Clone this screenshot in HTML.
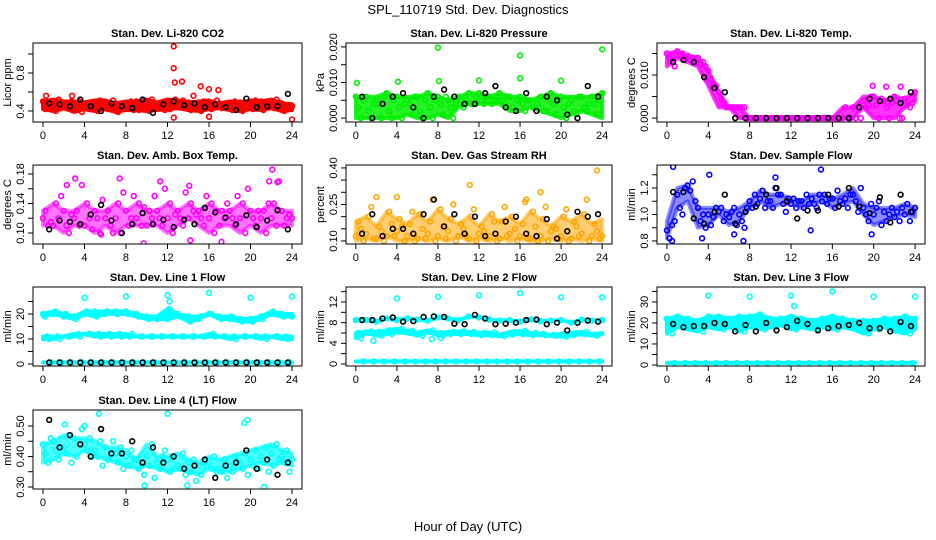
<!DOCTYPE html>
<html><head><meta charset="utf-8"><style>
html,body{margin:0;padding:0;background:#fff;}
svg{display:block;font-family:"Liberation Sans",sans-serif;}
</style></head><body>
<svg id="chart" width="936" height="540" viewBox="0 0 936 540" xmlns="http://www.w3.org/2000/svg">
<text x="468" y="14" text-anchor="middle" font-size="13">SPL_110719  Std. Dev. Diagnostics</text>
<text x="468" y="531" text-anchor="middle" font-size="13">Hour of Day (UTC)</text>
</svg>
<script>
const xTicks=[0,4,8,12,16,20,24];
// ---- CO2 ----
const co2A=[.50,.46,.48,.44,.47,.49,.45,.48,.46,.50,.47,.45,.48,.46,.49,.47,.45,.48,.46,.49,.47,.50,.46,.48,.45];
const co2B=[.42,.40,.43,.41,.44,.40,.42,.39,.43,.41,.40,.43,.42,.44,.41,.40,.42,.43,.41,.40,.42,.41,.43,.40,.42];
const co2C=[.47,.52,.45,.50,.42,.51,.48,.44,.50,.45,.52,.49,.44,.51,.46,.50,.48,.44,.50,.45,.51,.47,.52,.44,.47];
const co2D=[.44,.43,.50,.39,.49,.43,.51,.46,.41,.47,.44,.41,.52,.43,.47,.44,.51,.46,.44,.47,.43,.45,.49,.46,.41];
const co2OutX=[12.6,12.6,12.7,13.4,15.2,16,16.9,0.3,2.8,14.5,12.6,24,16];
const co2OutY=[1.08,.85,.70,.71,.66,.63,.62,.56,.56,.56,.33,.31,.34];
const co2Black=[.48,.47,.45,.52,.45,.40,.48,.45,.43,.52,.38,.47,.50,.46,.48,.44,.47,.44,.41,.53,.44,.45,.45,.58];
// ---- Pressure ----
const prA=[.006,.006,.005,.007,.006,.005,.006,.007,.006,.005,.006,.007,.007,.006,.007,.006,.006,.005,.006,.007,.006,.005,.006,.006,.007];
const prB=[.003,.002,.004,.002,.003,.004,.002,.003,.004,.003,.005,.004,.005,.004,.005,.003,.004,.003,.002,.004,.003,.002,.003,.004,.003];
const prC=[0,0,0,0,0,.001,0,0,.001,0,.003,.004,.004,.005,.004,.002,.002,.003,.002,.001,0,.001,.002,.001,0];
const prD=[.005,.004,.006,.005,.004,.006,.005,.005,.006,.004,.005,.006,.006,.005,.006,.005,.005,.004,.005,.005,.004,.006,.004,.005,.005];
const prOutX=[0.1,4.1,8,8.1,12,16,16,20,24];
const prOutY=[.0099,.0102,.0198,.0104,.0106,.0176,.0112,.0105,.0193];
const prBlack=[.006,0,.004,.006,.007,.003,0,.006,.008,.006,.004,.004,.007,.009,.003,.002,.007,.002,.006,.005,.001,0,.009,.006];
// ---- Li-820 Temp ----
const tpA=[.0150,.0155,.0145,.0140,.0110,.0060,.0025,.0025,0,0,0,0,0,0,0,0,0,0,.0025,.0040,.0050,.0040,.0050,.0045,.0060];
const tpB=[.0140,.0145,.0135,.0125,.0090,.0045,.0025,.0025,0,0,0,0,0,0,0,0,0,.0025,0,.0025,.0030,.0025,.0040,.0030,.0050];
const tpC=[.0145,.0150,.0140,.0130,.0080,.0035,.0025,.0025,0,0,0,0,0,0,0,0,0,0,.0025,.0030,0,0,0,.0025,.0040];
const tpD=[.0120,.0140,.0130,.0120,.0075,.0025,.0025,0,0,0,0,0,0,0,0,0,0,0,0,.0050,.0045,.0035,0,.0035,.0045];
const tpOutX=[19.9,21.2,22.6];
const tpOutY=[.0075,.0073,.0073];
const tpBlack=[.0130,.0135,.0130,.0095,.0070,.0060,0,0,0,0,0,0,0,0,0,0,0,0,.0025,.0045,.0040,.0045,.0035,.0060];
// ---- Amb Box Temp ----
const abA=[.12,.11,.13,.12,.11,.13,.12,.12,.13,.12,.11,.13,.12,.13,.12,.13,.12,.11,.13,.12,.13,.12,.12,.13,.12];
const abB=[.13,.14,.11,.13,.14,.12,.13,.14,.11,.14,.13,.12,.14,.12,.14,.12,.14,.13,.12,.14,.12,.13,.14,.11,.13];
const abC=[.11,.12,.10,.11,.12,.10,.11,.10,.12,.11,.12,.11,.10,.11,.13,.11,.10,.12,.11,.10,.11,.10,.11,.12,.11];
const abD=[.115,.15,.125,.165,.105,.145,.10,.155,.15,.135,.15,.16,.125,.155,.125,.15,.13,.14,.15,.16,.13,.14,.17,.125,.135];
const abOutX=[2.3,3.1,7.4,11.3,14.1,21.8,22.1,22.6,9.7,17.2,14.2,5.6];
const abOutY=[.165,.174,.174,.170,.164,.170,.186,.169,.086,.088,.090,.098];
const abBlack=[.105,.117,.115,.112,.125,.138,.117,.100,.112,.127,.112,.118,.108,.118,.112,.134,.128,.121,.112,.124,.108,.117,.131,.105];
// ---- Gas Stream RH ----
const rhA=[.12,.13,.11,.12,.14,.12,.11,.13,.12,.14,.12,.11,.13,.12,.11,.13,.12,.11,.12,.14,.12,.11,.13,.12,.12];
const rhB=[.18,.20,.16,.22,.19,.17,.21,.18,.23,.19,.17,.20,.16,.21,.18,.20,.17,.22,.19,.16,.20,.18,.21,.17,.19];
const rhC=[.15,.24,.14,.17,.16,.22,.15,.27,.16,.25,.15,.23,.14,.18,.24,.15,.26,.16,.24,.15,.23,.16,.27,.14,.22];
const rhD=[.10,.11,.10,.12,.10,.10,.11,.10,.11,.10,.12,.10,.11,.10,.12,.10,.11,.10,.10,.11,.10,.12,.10,.11,.10];
const rhOutX=[11.1,23.5,2,4,18,16.6];
const rhOutY=[.33,.39,.28,.28,.30,.27];
const rhBlack=[.13,.21,.12,.15,.15,.13,.21,.27,.16,.21,.13,.20,.12,.13,.18,.20,.13,.12,.19,.11,.14,.22,.20,.21];
// ---- Sample Flow ----
const sfA=[.88,1.15,1.22,1.05,1.00,1.02,.98,1.00,1.10,1.12,1.10,1.15,1.08,1.10,1.12,1.10,1.12,1.08,1.15,1.05,1.00,1.02,.98,1.00,1.05];
const sfB=[.82,1.05,1.18,.95,.92,1.05,1.02,.95,1.05,1.18,1.05,1.08,1.12,1.05,1.08,1.15,1.05,1.12,1.10,1.00,1.05,.95,1.02,1.08,1.00];
const sfC=[.92,1.00,1.25,1.00,.98,.95,1.05,.90,1.15,1.05,1.20,1.02,1.05,1.15,1.05,1.08,1.18,1.05,1.02,.95,1.10,1.00,.95,.95,1.10];
const sfD=[.95,1.20,1.10,.90,1.05,1.00,.92,1.05,1.08,1.10,1.15,1.12,1.10,1.08,1.15,1.12,1.10,1.15,1.20,1.08,.92,1.05,1.05,1.02,.98];
const sfOutX=[0.6,4.1,14.9,10.5,7.4,0.5,6.5,3.4,19.8,13.9];
const sfOutY=[1.36,1.30,1.34,1.28,.80,.80,.85,.82,.85,.88];
const sfBlack=[1.17,1.17,.97,.93,1.02,1.15,.93,1.02,1.06,1.15,1.20,1.10,.97,1.03,1.03,1.15,1.06,1.20,1.06,1.01,1.13,.94,1.15,1.02];
// ---- Line 1 ----
const l1A=[20,20,19,19,20,21,20,21,21,20,19,18,18,20,19,18,20,19,18,18,18,19,20,20,19];
const l1B=[19,21,20,18,21,19,21,20,20,19,18,19,22,19,17,19,20,18,19,17,17,18,21,19,20];
const l1C=[11,11,11,12,12,12,12,12,11,11,11,11,11,11,11,11,12,11,11,11,11,11,11,11,11];
const l1D=[10,10,11,11,12,11,11,11,12,11,11,11,11,11,11,11,11,11,10,11,11,10,11,10,10];
const l1E=[0.6,0.6,0.6,0.6,0.6,0.6,0.6,0.6,0.6,0.6,0.6,0.6,0.6,0.6,0.6,0.6,0.6,0.6,0.6,0.6,0.6,0.6,0.6,0.6,0.6];
const l1OutX=[4,8,12,16,20,24,12.2];
const l1OutY=[26.5,27,27.5,28.5,26.5,27,25];
const l1Black=[0.6,0.6,0.6,0.6,0.6,0.6,0.6,0.6,0.6,0.6,0.6,0.6,0.6,0.6,0.6,0.6,0.6,0.6,0.6,0.6,0.6,0.6,0.6,0.6];
// ---- Line 2 ----
const l2A=[8.5,8.5,8.2,8.8,8.5,8.8,8.6,8.4,9.0,8.8,8.5,9.2,9.0,8.6,8.4,8.5,8.2,8.6,8.3,8.4,8.5,8.0,8.6,8.4,8.5];
const l2B=[6.0,6.0,6.2,6.5,6.2,6.0,6.0,6.2,6.0,5.8,5.8,5.8,5.6,5.6,5.6,5.7,5.8,5.6,5.8,5.6,5.8,5.6,5.8,5.7,5.8];
const l2C=[5.0,6.3,5.5,5.8,6.8,6.4,5.5,6.5,5.5,6.2,6.3,6.2,6.0,6.1,5.4,6.2,6.4,6.0,5.6,5.5,5.3,6.0,6.2,5.5,6.0];
const l2D=[0.5,0.5,0.5,0.5,0.5,0.5,0.5,0.5,0.5,0.5,0.5,0.5,0.5,0.5,0.5,0.5,0.5,0.5,0.5,0.5,0.5,0.5,0.5,0.5,0.5];
const l2OutX=[4,8,12,16,20,24,1.7,7.4,8.3];
const l2OutY=[12.7,13,13.3,13.7,12.9,12.9,4.5,4.8,5];
const l2Black=[8.5,8.5,8.8,9.0,8.2,8.3,9.1,9.2,9.1,7.8,7.7,9.5,8.8,7.7,7.8,8.0,8.5,8.6,7.7,8.0,6.5,8.0,8.4,8.2];
// ---- Line 3 ----
const l3A=[22,23,22,21,23,23,22,23,23,24,22,22,23,22,21,22,23,22,21,21,21,22,22,23,22];
const l3B=[20,19,20,19,20,21,20,19,21,20,20,21,20,19,20,21,20,20,19,19,20,20,21,20,20];
const l3C=[15,18,17,16,18,17,18,16,18,17,18,19,17,18,17,18,17,18,17,15,17,18,16,15,17];
const l3D=[1,1,1,1,1,1,1,1,1,1,1,1,1,1,1,1,1,1,1,1,1,1,1,1,1];
const l3OutX=[4,8,12,16,20,24,12.3];
const l3OutY=[33,32.5,33,35,32.5,32.5,28];
const l3Black=[19.5,18,18.5,18.5,20,19.5,16,19,16,20,16.5,18,21,19.5,16.5,17.5,18.5,19,20,17.5,17.5,16,20.5,18.5];
// ---- Line 4 ----
const l4A=[.44,.45,.43,.46,.44,.42,.43,.41,.40,.39,.40,.38,.39,.37,.38,.37,.38,.36,.37,.38,.39,.40,.41,.40,.39];
const l4B=[.41,.42,.41,.40,.42,.40,.39,.38,.37,.36,.37,.36,.35,.36,.35,.34,.36,.35,.35,.36,.37,.38,.37,.38,.37];
const l4C=[.38,.39,.47,.44,.46,.45,.41,.43,.42,.37,.44,.40,.40,.41,.39,.38,.40,.39,.40,.41,.42,.43,.44,.42,.41];
const l4D=[.46,.43,.38,.49,.40,.37,.45,.36,.39,.34,.33,.42,.36,.34,.32,.37,.35,.33,.38,.34,.36,.35,.39,.35,.40];
const l4OutX=[5.4,12,19.7,19.4,2.1,4,21.3,9.8,13.9];
const l4OutY=[.54,.54,.52,.51,.505,.50,.30,.305,.305];
const l4Black=[.52,.43,.47,.44,.40,.49,.41,.41,.45,.38,.43,.38,.40,.36,.37,.39,.33,.37,.38,.42,.36,.39,.34,.38];

const panels=[
 {name:'co2',title:'Stan. Dev. Li-820 CO2',ylab:'Licor ppm',col:0,row:0,lo:.284,hi:1.116,color:'#ff0000',op:1,groups:[[0,1,2,3]],series:[co2A,co2B,co2C,co2D],ox:co2OutX,oy:co2OutY,black:co2Black,ticks:[.4,.6,.8,1.0],labels:['0.4','','0.8','']},
 {name:'pressure',title:'Stan. Dev. Li-820 Pressure',ylab:'kPa',col:1,row:0,lo:-.0011,hi:.0211,color:'#00ee00',op:.85,groups:[[0,1,2,3]],series:[prA,prB,prC,prD],ox:prOutX,oy:prOutY,black:prBlack,ticks:[0,.005,.01,.015,.02],labels:['0.000','','0.010','','0.020']},
 {name:'li820-temp',title:'Stan. Dev. Li-820 Temp.',ylab:'degrees C',col:2,row:0,lo:-.0009,hi:.01744,color:'#ff00ff',op:.8,groups:[[0,1,2,3]],series:[tpA,tpB,tpC,tpD],ox:tpOutX,oy:tpOutY,black:tpBlack,ticks:[0,.005,.01,.015],labels:['0.000','','0.010','']},
 {name:'amb-box-temp',title:'Stan. Dev. Amb. Box Temp.',ylab:'degrees C',col:0,row:1,lo:.0851,hi:.1922,color:'#ff00ff',op:.55,groups:[[0,1,2]],series:[abA,abB,abC,abD],ox:abOutX,oy:abOutY,black:abBlack,ticks:[.10,.12,.14,.16,.18],labels:['0.10','','0.14','','0.18']},
 {name:'gas-stream-rh',title:'Stan. Dev. Gas Stream RH',ylab:'percent',col:1,row:1,lo:.0877,hi:.412,color:'#ffa500',op:.55,groups:[[0,1,3]],series:[rhA,rhB,rhC,rhD],ox:rhOutX,oy:rhOutY,black:rhBlack,ticks:[.10,.15,.20,.25,.30,.35,.40],labels:['0.10','','','0.25','','','0.40']},
 {name:'sample-flow',title:'Stan. Dev. Sample Flow',ylab:'ml/min',col:2,row:1,lo:.777,hi:1.374,color:'#0000ff',op:.45,groups:[[0,1,3]],series:[sfA,sfB,sfC,sfD],ox:sfOutX,oy:sfOutY,black:sfBlack,ticks:[.8,.9,1.0,1.1,1.2,1.3],labels:['0.8','','1.0','','1.2','']},
 {name:'line1-flow',title:'Stan. Dev. Line 1 Flow',ylab:'ml/min',col:0,row:2,lo:-.8,hi:30.8,color:'#00ffff',op:1,groups:[[0,1],[2,3],[4]],series:[l1A,l1B,l1C,l1D,l1E],ox:l1OutX,oy:l1OutY,black:l1Black,ticks:[0,5,10,15,20,25],labels:['0','','10','','20','']},
 {name:'line2-flow',title:'Stan. Dev. Line 2 Flow',ylab:'ml/min',col:1,row:2,lo:-.39,hi:14.9,color:'#00ffff',op:1,groups:[[0],[1,2],[3]],series:[l2A,l2B,l2C,l2D],ox:l2OutX,oy:l2OutY,black:l2Black,ticks:[0,2,4,6,8,10,12,14],labels:['0','','4','','8','','12','']},
 {name:'line3-flow',title:'Stan. Dev. Line 3 Flow',ylab:'ml/min',col:2,row:2,lo:-.48,hi:37.1,color:'#00ffff',op:1,groups:[[0,1,2],[3]],series:[l3A,l3B,l3C,l3D],ox:l3OutX,oy:l3OutY,black:l3Black,ticks:[0,5,10,15,20,25,30,35],labels:['0','','10','','20','','30','']},
 {name:'line4-flow',title:'Stan. Dev. Line 4 (LT) Flow',ylab:'ml/min',col:0,row:3,lo:.2934,hi:.5525,color:'#00ffff',op:.7,groups:[[0,1,2]],series:[l4A,l4B,l4C,l4D],ox:l4OutX,oy:l4OutY,black:l4Black,ticks:[.30,.35,.40,.45,.50],labels:['0.30','','0.40','','0.50']}
];
const colL=[33,346,657], colR=[302,612,925], rowT=[43,165,287,410], BH=79;
const svg=document.getElementById('chart');
const NS='http://www.w3.org/2000/svg';
function mk(tag,attrs,parent){const e=document.createElementNS(NS,tag);for(const k in attrs)e.setAttribute(k,attrs[k]);(parent||svg).appendChild(e);return e;}
panels.forEach(p=>{
  const L=colL[p.col],R=colR[p.col],T=rowT[p.row],B=T+BH;
  const xs=v=>L+(v+0.96)/25.92*(R-L);
  const ys=v=>B-(v-p.lo)/(p.hi-p.lo)*BH;
  const g=mk('g',{});
  
  
  const clip=mk('clipPath',{id:'c-'+p.name},g);
  mk('rect',{x:L,y:T,width:R-L,height:BH},clip);
  const pts=mk('g',{'clip-path':'url(#c-'+p.name+')'},g);
  
  
  const n=p.series.length;
  // dense cloud envelope for each group of series
  p.groups.forEach(grp=>{
    const len=p.series[grp[0]].length;
    const top=[],bot=[];
    for(let i=0;i<len;i++){
      const vals=grp.map(k=>p.series[k][i]);
      top.push(xs(i).toFixed(1)+','+ys(Math.max(...vals)).toFixed(1));
      bot.unshift(xs(i).toFixed(1)+','+ys(Math.min(...vals)).toFixed(1));
    }
    const pg=mk('polygon',{points:top.concat(bot).join(' '),fill:p.color,'fill-opacity':p.op,stroke:p.color,'stroke-opacity':p.op,'stroke-width':4,'stroke-linejoin':'round'},pts);
    
    
  });
  p.series.forEach((s,si)=>{
    s.forEach((v,i)=>{
      const x=i+si/n;
      if(x>24.05)return;
      const c=mk('circle',{cx:xs(x),cy:ys(v),r:2.4,fill:'none',stroke:p.color,'stroke-width':1.6},pts);
      
      
    });
  });
  p.ox.forEach((x,i)=>{
    const c=mk('circle',{cx:xs(x),cy:ys(p.oy[i]),r:2.4,fill:'none',stroke:p.color,'stroke-width':1.6},pts);
    
    
  });
  p.black.forEach((v,i)=>{
    const c=mk('circle',{cx:xs(i+0.6),cy:ys(v),r:2.4,fill:'none',stroke:'#000','stroke-width':1.6},pts);
    
    
  });
  const box=mk('rect',{x:L,y:T,width:R-L,height:BH,fill:'none',stroke:'#000','stroke-width':1},g);
  
  
  const t=mk('text',{x:(L+R)/2,y:T-6,'text-anchor':'middle','font-size':11,'font-weight':'bold'},g);
  t.textContent=p.title;
  
  
  xTicks.forEach(v=>{
    const x=xs(v);
    mk('line',{x1:x,x2:x,y1:B,y2:B+5,stroke:'#000'},g);
    const tl=mk('text',{x:x,y:B+17,'text-anchor':'middle','font-size':11},g);
    tl.textContent=v;
    
    
  });
  mk('line',{x1:xs(0),x2:xs(24),y1:B,y2:B,stroke:'#000'},g);
  p.ticks.forEach((v,i)=>{
    const y=ys(v);
    mk('line',{x1:L-5,x2:L,y1:y,y2:y,stroke:'#000'},g);
    if(p.labels[i]){
      const tl=mk('text',{x:L-9,y:y,'text-anchor':'middle','font-size':11,transform:'rotate(-90 '+(L-9)+' '+y+')'},g);
      tl.textContent=p.labels[i];
      
      
    }
  });
  const yl=mk('text',{x:L-22,y:(T+B)/2,'text-anchor':'middle','font-size':11,transform:'rotate(-90 '+(L-22)+' '+(T+B)/2+')'},g);
  yl.textContent=p.ylab;
  
  
});
</script>
</body></html>
